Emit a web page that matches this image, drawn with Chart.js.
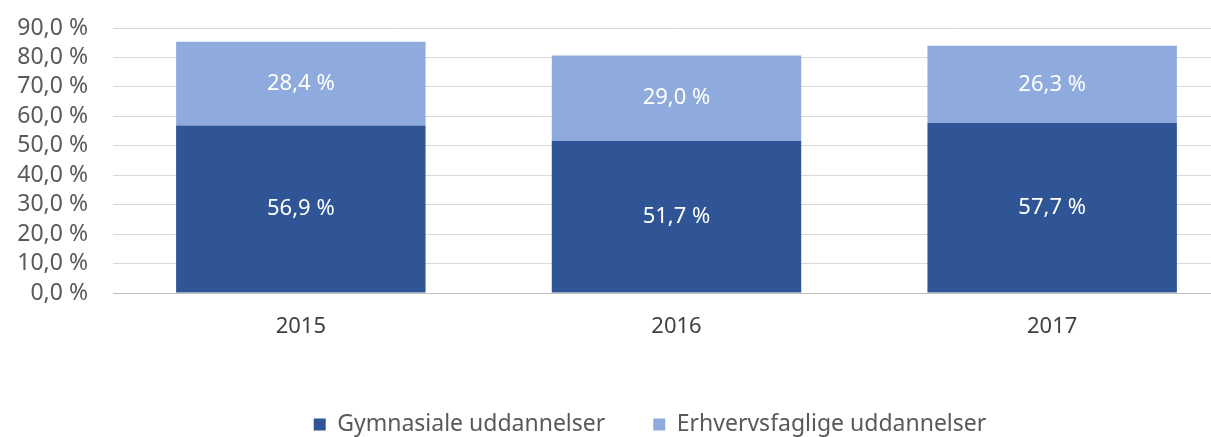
<!DOCTYPE html>
<html>
<head>
<meta charset="utf-8">
<script src="https://cdn.jsdelivr.net/npm/chart.js@4"></script>
<style>
  html, body { margin: 0; padding: 0; background: #fff; overflow: hidden; }
  #wrap { width: 1240px; height: 437px; }
</style>
</head>
<body>
<div id="wrap"><canvas id="chart"></canvas></div>
<script>
const years = ['2015', '2016', '2017'];
const gymnasiale = [56.9, 51.7, 57.7];
const erhvervsfaglige = [28.4, 29.0, 26.3];
const seriesNames = ['Gymnasiale uddannelser', 'Erhvervsfaglige uddannelser'];

const FONT = '"Noto Sans", "Open Sans", sans-serif';
const fmt = v => v.toFixed(1).replace('.', ',') + ' %';

// white value text centred in each stacked segment
const segmentLabels = {
  id: 'segmentLabels',
  afterDatasetsDraw(chart) {
    const ctx = chart.ctx;
    ctx.save();
    ctx.fillStyle = '#ffffff';
    ctx.font = '22px ' + FONT;
    ctx.textAlign = 'center';
    ctx.textBaseline = 'middle';
    chart.data.datasets.forEach((ds, i) => {
      chart.getDatasetMeta(i).data.forEach((bar, j) => {
        const mid = (bar.y + bar.base) / 2;
        ctx.fillText(fmt(ds.data[j]), bar.x, mid);
      });
    });
    ctx.restore();
  }
};

// move the legend a bit right and down from where the layout puts it
const legendShift = {
  id: 'legendShift',
  afterLayout(chart) {
    const lg = chart.legend;
    if (!lg) return;
    lg.left += 30; lg.right += 30;
    lg.top += 9; lg.bottom += 9;
  }
};

new Chart(document.getElementById('chart').getContext('2d'), {
  type: 'bar',
  data: {
    labels: years,
    datasets: [
      { label: seriesNames[0], data: gymnasiale, backgroundColor: '#2f5597', borderWidth: 0 },
      { label: seriesNames[1], data: erhvervsfaglige, backgroundColor: '#8faadc', borderWidth: 0 },
    ],
  },
  options: {
    responsive: true,
    maintainAspectRatio: false,
    animation: false,
    layout: { padding: { top: 28, left: 0, right: 0, bottom: 0 } },
    datasets: { bar: { categoryPercentage: 0.664, barPercentage: 1 } },
    plugins: {
      legend: {
        position: 'bottom',
        labels: {
          boxWidth: 12, boxHeight: 12, padding: 48,
          color: '#595959', font: { family: FONT, size: 23 },
        },
      },
      tooltip: { enabled: false },
    },
    scales: {
      x: {
        stacked: true,
        grid: { display: false, drawTicks: false },
        border: { color: '#bfbfbf', width: 1 },
        ticks: { color: '#404040', font: { family: FONT, size: 22 }, padding: 21 },
        afterFit: s => { s.height = 63; },
      },
      y: {
        stacked: true,
        min: 0, max: 90,
        grid: { color: '#d9d9d9', drawTicks: false },
        border: { display: false },
        ticks: {
          stepSize: 10, autoSkip: false, color: '#595959', padding: 25,
          font: { family: FONT, size: 23 },
          callback: v => fmt(v),
        },
        // fixed axis width; top/bottom label overhang goes into layout padding
        afterFit: s => { s.width = 113; s.paddingTop = 0; s.paddingBottom = 0; },
      },
    },
  },
  plugins: [segmentLabels, legendShift],
});
</script>
</body>
</html>
